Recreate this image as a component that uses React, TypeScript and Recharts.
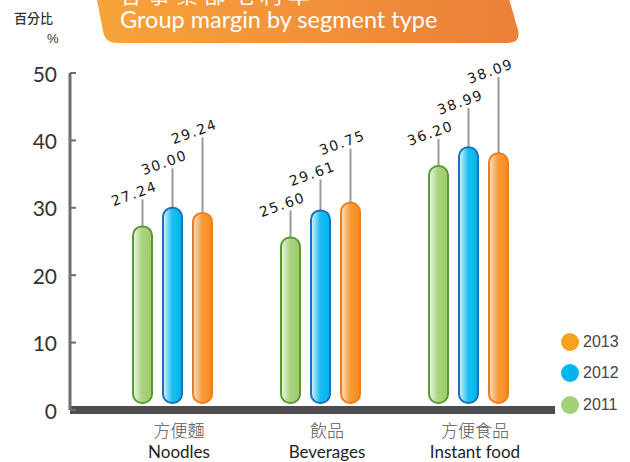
import React from 'react';
import { BarChart, Bar, XAxis, YAxis, ReferenceLine } from 'recharts';

// data
const categories = ['Noodles', 'Beverages', 'Instant food'];
const categoriesCn = ['方便麵', '飲品', '方便食品'];
const years = ['2011', '2012', '2013'];
const margin2011 = [27.24, 25.6, 36.2];
const margin2012 = [30.0, 29.61, 38.99];
const margin2013 = [29.24, 30.75, 38.09];
const yTicks = [0, 10, 20, 30, 40, 50];

const data = categories.map((name, i) => ({
  name,
  cn: categoriesCn[i],
  y2011: margin2011[i],
  y2012: margin2012[i],
  y2013: margin2013[i],
}));

const keys = ['y2011', 'y2012', 'y2013'];
const borders = ['#5a9a32', '#1b72bb', '#ee7d1a'];
const legendColors = ['#a4d07a', '#00b5ef', '#f7a21b'];
const gradStops = [
  ['#f0f8e6', '#a9d47d', '#9ecb6c'],
  ['#e3f5fd', '#1bbdf0', '#00b3ee'],
  ['#fde2c6', '#f79b38', '#f68a1f'],
];

const makeBarShape = (si: number) => (props: any) => {
  const { x, y, width, height, payload } = props;
  const v = payload[keys[si]];
  const base = y + height;
  const ppu = height / v;
  // labels are staggered upwards from the 2011 bar of the group
  const greenTop = base - payload.y2011 * ppu;
  const lineTop = greenTop - 27 - si * 31;
  const cx = x + width / 2;
  const bottom = base - 7;
  const tx = cx - 8;
  const ty = lineTop - 5;
  return (
    <g>
      <line x1={cx} x2={cx} y1={y + 4} y2={lineTop} stroke="#9a9a9c" strokeWidth={2} />
      <rect
        x={x + 1}
        y={y}
        width={width - 2}
        height={bottom - y}
        rx={9}
        ry={9}
        fill={`url(#barGrad${si})`}
        stroke={borders[si]}
        strokeWidth={2}
      />
      <text
        x={tx}
        y={ty}
        transform={`rotate(-20 ${tx} ${ty})`}
        textAnchor="middle"
        dominantBaseline="middle"
        fontFamily="DejaVu Sans"
        fontSize={14}
        letterSpacing={1.5}
        fill="#1a1a1a"
      >
        {v.toFixed(2)}
      </text>
    </g>
  );
};

const YTick = (props: any) => {
  const { x, y, payload } = props;
  return (
    <g>
      <line x1={x} x2={x + 6} y1={y} y2={y} stroke="#6d6e71" strokeWidth={2} />
      <text x={x - 13} y={y} textAnchor="end" dominantBaseline="central" fontFamily="Lato" fontSize={21} fill="#333">
        {payload.value}
      </text>
    </g>
  );
};

const XTick = (props: any) => {
  const { x, y, index } = props;
  return (
    <g>
      <text x={x + 7} y={y + 27} textAnchor="middle" fontFamily="Noto Sans CJK TC" fontWeight={300} fontSize={17} fill="#555">
        {categoriesCn[index]}
      </text>
      <text x={x + 7} y={y + 48} textAnchor="middle" fontFamily="Lato" fontSize={17} fill="#1e1e1e">
        {categories[index]}
      </text>
    </g>
  );
};

const LegendBox = () => (
  <div style={{ position: 'absolute', left: 561, top: 326, fontFamily: 'Liberation Sans', fontSize: 16, color: '#444' }}>
    {[2, 1, 0].map((i) => (
      <div key={i} style={{ display: 'flex', alignItems: 'center', height: 31.5 }}>
        <span
          style={{ width: 18, height: 18, borderRadius: 9, background: legendColors[i], display: 'inline-block', marginRight: 4 }}
        />
        {years[i]}
      </div>
    ))}
  </div>
);

export default function App() {
  return (
    <div style={{ position: 'absolute', left: 0, top: 0, width: 630, height: 462, background: '#fff', overflow: 'hidden' }}>
      <svg width={630} height={60} style={{ position: 'absolute', left: 0, top: 0 }}>
        <defs>
          <linearGradient id="banner" x1="0" y1="0" x2="1" y2="0">
            <stop offset="0%" stopColor="#f7a43a" />
            <stop offset="100%" stopColor="#ec7f3a" />
          </linearGradient>
        </defs>
        <path d="M 96 -5 L 508 -5 L 518 30 Q 521 43 507 43 L 117 43 Q 105 43 103 31 Z" fill="url(#banner)" />
        <text x={120} y={3} fontFamily="Noto Sans CJK TC" fontSize={22} fill="#fff" letterSpacing={6}>
          各事業部毛利率
        </text>
        <text x={120} y={28} fontFamily="Lato" fontSize={23.5} fill="#fff">
          Group margin by segment type
        </text>
        <text x={14} y={23} fontFamily="Noto Sans CJK TC" fontSize={13} fontWeight={500} fill="#333">
          百分比
        </text>
        <text x={47} y={43} fontFamily="Liberation Sans" fontSize={13} fill="#333">
          %
        </text>
      </svg>
      <div style={{ position: 'absolute', left: 0, top: 0 }}>
        <BarChart width={630} height={462} data={data} margin={{ top: 73, right: 75, bottom: 22, left: 0 }} barGap={9}>
          <defs>
            {gradStops.map((s, i) => (
              <linearGradient key={i} id={`barGrad${i}`} x1="0" y1="0" x2="1" y2="0">
                <stop offset="0%" stopColor={s[0]} />
                <stop offset="48%" stopColor={s[1]} />
                <stop offset="100%" stopColor={s[2]} />
              </linearGradient>
            ))}
          </defs>
          <XAxis
            dataKey="name"
            height={30}
            axisLine={false}
            tickLine={false}
            tickSize={0}
            tickMargin={0}
            padding={{ left: 28, right: 13 }}
            tick={<XTick />}
            interval={0}
          />
          <YAxis
            domain={[0, 50]}
            ticks={yTicks}
            width={70}
            tickLine={false}
            tickSize={0}
            tickMargin={0}
            axisLine={{ stroke: '#6d6e71', strokeWidth: 3 }}
            tick={<YTick />}
          />
          {keys.map((k, i) => (
            <Bar key={k} dataKey={k} name={years[i]} fill={legendColors[i]} barSize={21} shape={makeBarShape(i)} isAnimationActive={false} />
          ))}
          <ReferenceLine y={0} stroke="#4d4d4f" strokeWidth={8} ifOverflow="visible" />
        </BarChart>
      </div>
      <LegendBox />
    </div>
  );
}
